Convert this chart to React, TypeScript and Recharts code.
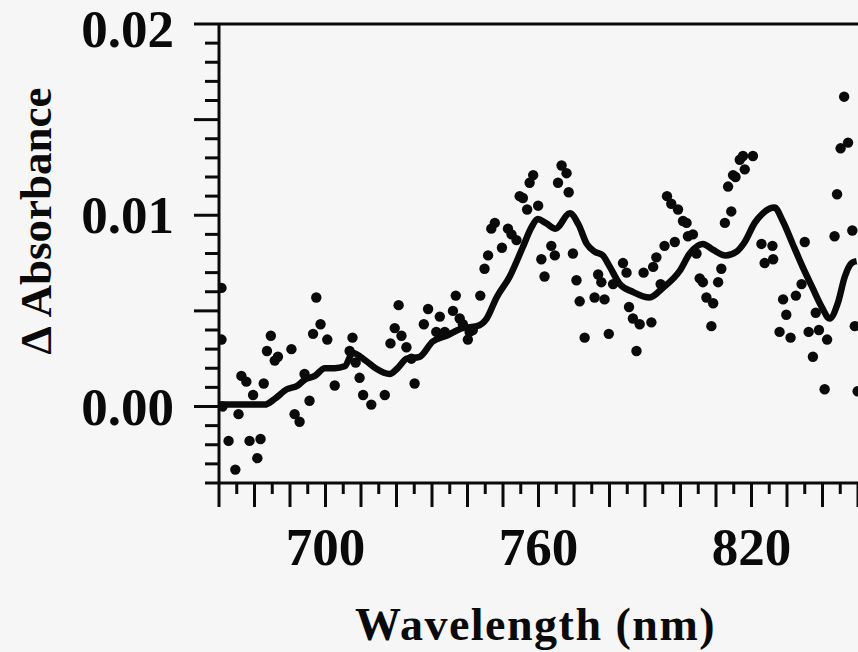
import { ComposedChart, Line, Scatter, XAxis, YAxis, ReferenceLine } from 'recharts';

// smoothed trace
const lineNm = [
  670.0, 675.8, 682.9, 685.7, 689.1, 692.2, 694.1, 697.0, 699.8, 702.6, 705.4, 707.7, 711.3, 714.1,
  718.1, 720.3, 722.9, 726.5, 730.2, 734.1, 738.6, 742.6, 745.4, 748.2, 751.9, 755.5, 758.1, 759.8,
  762.0, 764.8, 768.8, 771.3, 773.6, 775.8, 778.1, 780.1, 782.9, 786.5, 791.3, 795.0, 799.8, 802.6,
  806.3, 809.1, 812.7, 815.8, 818.1, 820.9, 823.2, 826.5, 828.8, 831.6, 834.4, 837.2, 839.8, 842.0,
  844.3, 846.3, 848.2, 849.6,
];
const lineAbs = [
  0.0001, 0.0001, 0.0001, 0.0004, 0.0009, 0.0011, 0.0014, 0.0016, 0.002, 0.002, 0.0021, 0.0028, 0.0024, 0.002,
  0.0017, 0.002, 0.0025, 0.0026, 0.0034, 0.0037, 0.0041, 0.0042, 0.0046, 0.0057, 0.0068, 0.0083, 0.0094, 0.0098,
  0.0096, 0.0093, 0.0101, 0.0095, 0.0085, 0.0081, 0.0079, 0.0073, 0.0064, 0.006, 0.0057, 0.0062, 0.0071, 0.008,
  0.0085, 0.0082, 0.0079, 0.0081, 0.0086, 0.0096, 0.0101, 0.0104, 0.0097, 0.0085, 0.0073, 0.0062, 0.0052, 0.0046,
  0.0054, 0.0068, 0.0075, 0.0076,
];

// measured points
const dotNm = [
  670.7, 670.7, 671.0, 672.7, 674.6, 675.5, 676.3, 677.7, 678.6, 679.6, 680.8, 681.7, 682.6, 683.5,
  684.6, 685.7, 686.6, 690.4, 691.3, 692.7, 694.1, 695.5, 696.5, 697.4, 698.6, 700.5, 702.6, 706.8,
  707.6, 708.5, 709.6, 710.6, 712.9, 716.7, 718.3, 719.5, 720.6, 721.4, 722.8, 724.2, 725.1, 727.7,
  728.9, 731.2, 732.2, 733.6, 735.9, 736.7, 737.8, 738.7, 740.1, 740.6, 741.5, 743.6, 744.8, 745.8,
  746.7, 747.7, 749.7, 751.4, 752.4, 753.8, 754.7, 755.6, 756.8, 757.5, 758.5, 759.9, 760.8, 761.7,
  763.6, 764.6, 765.5, 766.5, 767.9, 768.5, 769.7, 770.7, 771.6, 773.0, 775.8, 776.8, 777.7, 778.6,
  779.8, 781.0, 783.8, 784.8, 785.5, 786.6, 787.6, 788.5, 789.6, 791.8, 792.3, 793.2, 794.4, 795.5,
  796.2, 797.4, 798.4, 799.3, 800.7, 801.7, 802.1, 803.5, 804.5, 805.4, 806.3, 807.3, 808.7, 809.2,
  810.6, 811.5, 812.5, 813.4, 814.3, 814.8, 815.5, 816.7, 817.6, 818.1, 820.4, 822.8, 823.7, 825.9,
  826.1, 827.9, 828.9, 829.8, 831.0, 832.5, 834.1, 835.0, 836.1, 837.3, 838.1, 839.0, 840.6, 841.3,
  843.4, 844.1, 845.1, 846.1, 847.2, 848.4, 849.1, 849.9,
];
const dotAbs = [
  0.0062, 0.0035, 0.0, -0.0018, -0.0033, -0.0004, 0.0016, 0.0013, -0.0018, 0.0006, -0.0027, -0.0017, 0.0012, 0.0029,
  0.0037, 0.0024, 0.0026, 0.003, -0.0004, -0.0008, 0.0017, 0.0003, 0.0038, 0.0057, 0.0043, 0.0035, 0.0011, 0.0029,
  0.0036, 0.0023, 0.0015, 0.0006, 0.0001, 0.0006, 0.0033, 0.0041, 0.0053, 0.0037, 0.0031, 0.0025, 0.0012, 0.0043,
  0.0051, 0.0039, 0.0047, 0.0039, 0.005, 0.0058, 0.0046, 0.0043, 0.0035, 0.0039, 0.004, 0.0058, 0.0072, 0.0079,
  0.0093, 0.0096, 0.0083, 0.0093, 0.009, 0.0087, 0.011, 0.0109, 0.0103, 0.0117, 0.0121, 0.0105, 0.0077, 0.0068,
  0.0084, 0.0079, 0.0117, 0.0126, 0.0122, 0.0112, 0.008, 0.0066, 0.0055, 0.0036, 0.0057, 0.0069, 0.0065, 0.0056,
  0.0038, 0.0064, 0.0075, 0.007, 0.0052, 0.0046, 0.0029, 0.0043, 0.007, 0.0044, 0.0073, 0.0078, 0.0064, 0.0084,
  0.011, 0.0106, 0.0086, 0.0103, 0.0097, 0.0096, 0.0089, 0.009, 0.008, 0.0067, 0.0065, 0.0057, 0.0042, 0.0054,
  0.0065, 0.0072, 0.0096, 0.0115, 0.0102, 0.0121, 0.012, 0.0129, 0.0131, 0.0124, 0.0131, 0.0085, 0.0075, 0.0084,
  0.0077, 0.0039, 0.0056, 0.0048, 0.0036, 0.0058, 0.0064, 0.0086, 0.0039, 0.0026, 0.0049, 0.004, 0.0009, 0.0035,
  0.0089, 0.0111, 0.0135, 0.0162, 0.0138, 0.0092, 0.0042, 0.0008,
];

const xLabels = [700, 760, 820];
const yLabels = [0, 0.01, 0.02];

const lineData = lineNm.map((nm, i) => ({ nm, abs: lineAbs[i] }));
const dotData = dotNm.map((nm, i) => ({ nm, abs: dotAbs[i] }));

const xTicks: number[] = [];
for (let v = 670; v <= 850; v += 5) xTicks.push(v);
const yTicks: number[] = [];
for (let k = -4; k <= 20; k++) yTicks.push(k / 1000);

const FONT = '"Liberation Serif", "Times New Roman", serif';
const INK = '#0a0a0a';

function XTick({ x, y, payload }: any) {
  const v = payload.value;
  const major = Math.round(v) % 10 === 0;
  return (
    <g>
      <line x1={x} x2={x} y1={y} y2={y + (major ? 24 : 11)} stroke={INK} strokeWidth={3} />
      {xLabels.includes(v) && (
        <text x={x} y={y + 82} textAnchor="middle" fontFamily={FONT} fontWeight={700} fontSize={53} fill={INK}>
          {v}
        </text>
      )}
    </g>
  );
}

function YTick({ x, y, payload }: any) {
  const v = payload.value;
  const k = Math.round(v * 1000);
  const major = k % 5 === 0;
  const label = yLabels.find((l) => Math.abs(l - v) < 1e-9);
  // keep the top label inside the picture
  const baseline = Math.max(y + 18, 47);
  return (
    <g>
      <line x1={x - (major ? 25 : 14)} x2={x} y1={y} y2={y} stroke={INK} strokeWidth={3} />
      {label !== undefined && (
        <text x={x - 45} y={baseline} textAnchor="end" fontFamily={FONT} fontWeight={700} fontSize={53} fill={INK}>
          {label.toFixed(2)}
        </text>
      )}
    </g>
  );
}

export default function App() {
  return (
    <div style={{ position: 'absolute', left: 0, top: 0, width: 858, height: 652, background: '#f6f6f6' }}>
      <ComposedChart width={858} height={652} margin={{ top: 24, right: 0, left: 0, bottom: 0 }}>
        <XAxis
          dataKey="nm"
          type="number"
          domain={[670, 850]}
          allowDataOverflow
          ticks={xTicks}
          interval={0}
          tick={<XTick />}
          tickLine={false}
          tickSize={0}
          tickMargin={0}
          height={169}
          axisLine={{ stroke: INK, strokeWidth: 3 }}
          label={{
            content: ({ viewBox }: any) => (
              <text
                x={viewBox.x + viewBox.width / 2 - 3}
                y={640}
                textAnchor="middle"
                fontFamily={FONT}
                fontWeight={700}
                fontSize={46}
                letterSpacing={1.5}
                fill={INK}
              >
                Wavelength (nm)
              </text>
            ),
          }}
        />
        <YAxis
          dataKey="abs"
          type="number"
          domain={[-0.004, 0.02]}
          allowDataOverflow
          ticks={yTicks}
          interval={0}
          tick={<YTick />}
          tickLine={false}
          tickSize={0}
          tickMargin={0}
          width={219}
          axisLine={{ stroke: INK, strokeWidth: 3 }}
          label={{
            content: () => (
              <text
                x={0}
                y={0}
                transform="translate(51, 221) rotate(-90)"
                textAnchor="middle"
                fontFamily={FONT}
                fontWeight={700}
                fontSize={45}
                fill={INK}
              >
                Δ Absorbance
              </text>
            ),
          }}
        />
        <ReferenceLine y={0.02} stroke={INK} strokeWidth={3} ifOverflow="extendDomain" />
        <Scatter
          data={dotData}
          dataKey="abs"
          fill={INK}
          isAnimationActive={false}
          shape={(p: any) => <circle cx={p.cx} cy={p.cy} r={5.2} fill={INK} />}
        />
        <Line
          data={lineData}
          dataKey="abs"
          type="monotone"
          stroke={INK}
          strokeWidth={6.5}
          dot={false}
          activeDot={false}
          isAnimationActive={false}
        />
      </ComposedChart>
    </div>
  );
}
